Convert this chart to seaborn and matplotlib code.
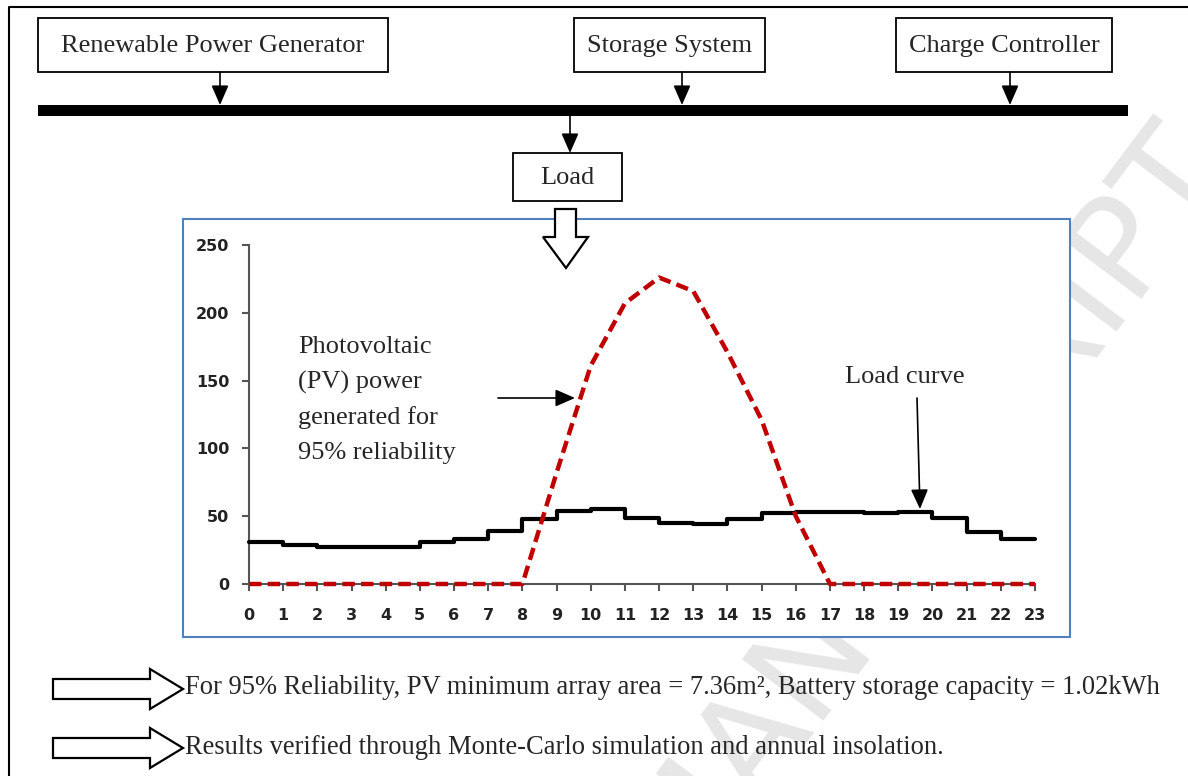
import matplotlib
matplotlib.use("Agg")
import pandas as pd
import seaborn as sns
import matplotlib.pyplot as plt
from matplotlib.patches import Rectangle, Polygon

# ------------------------------------------------
# data
# ------------------------------------------------
hours = list(range(24))
load_curve = [31, 29, 27, 27, 27, 31, 33, 39, 48, 54, 55, 49,
              45, 44, 48, 52, 53, 53, 52, 53, 49, 38, 33, 33]
pv_power = [0, 0, 0, 0, 0, 0, 0, 0, 0, 82, 161, 207,
            226, 216, 171, 121, 50, 0, 0, 0, 0, 0, 0, 0]
y_ticks = [0, 50, 100, 150, 200, 250]

block_labels = ["Renewable Power Generator", "Storage System", "Charge Controller"]
pv_note = ["Photovoltaic", "(PV) power", "generated for", "95% reliability"]
result_lines = [
    "For 95% Reliability, PV minimum array area = 7.36m\u00b2, Battery storage capacity = 1.02kWh",
    "Results verified through Monte-Carlo simulation and annual insolation.",
]

df = pd.DataFrame({"hour": hours, "load": load_curve, "pv": pv_power})

sns.set_style("ticks")
plt.rcParams["font.family"] = ["Liberation Serif", "DejaVu Serif"]

W, H = 1188, 776
fig = plt.figure(figsize=(W / 100, H / 100), dpi=100)

# background axes in pixel coordinates for the block diagram
bg = fig.add_axes([0, 0, 1, 1])
bg.set_xlim(0, W)
bg.set_ylim(H, 0)
bg.axis("off")

# watermark (mostly hidden behind the chart)
bg.text(1235, 175, "ACCEPTED MANUSCRIPT", rotation=53, rotation_mode="anchor",
        ha="right", va="baseline", fontsize=100, color="#e6e6e6",
        family="DejaVu Sans", zorder=0, clip_on=True)

# outer frame (left + top)
bg.plot([9, 9, W], [H, 7, 7], color="black", lw=1.5, zorder=3)

# blocks on the bus
boxes = [(38, 388), (574, 765), (896, 1112)]
arrow_x = [220, 682, 1010]
head = "-|>,head_length=0.8,head_width=0.35"
for (x0, x1), lab, xa in zip(boxes, block_labels, arrow_x):
    bg.add_patch(Rectangle((x0, 18), x1 - x0, 54, fc="white", ec="black", lw=1.3, zorder=3))
    bg.text((x0 + x1) / 2, 46, lab, ha="center", va="center", fontsize=19, zorder=4)
    bg.annotate("", xy=(xa, 105), xytext=(xa, 72),
                arrowprops=dict(arrowstyle=head, mutation_scale=15, color="black",
                                lw=1.2, shrinkA=0, shrinkB=0), zorder=4)

# bus bar
bg.add_patch(Rectangle((38, 105), 1128 - 38, 11, fc="black", ec="none", zorder=3))

# load block
bg.annotate("", xy=(570, 153), xytext=(570, 116),
            arrowprops=dict(arrowstyle=head, mutation_scale=15, color="black",
                            lw=1.2, shrinkA=0, shrinkB=0), zorder=4)
bg.add_patch(Rectangle((513, 153), 109, 48, fc="white", ec="black", lw=1.3, zorder=3))
bg.text(567, 178, "Load", ha="center", va="center", fontsize=19, zorder=4)

# chart frame
bg.add_patch(Rectangle((183, 219), 1070 - 183, 637 - 219, fc="white",
                       ec="#4f81bd", lw=1.5, zorder=2))

# hollow arrows
down_arrow = [(555, 209), (576, 209), (576, 237), (588, 237), (566, 268), (543, 237), (555, 237)]
bg.add_patch(Polygon(down_arrow, closed=True, fc="white", ec="black", lw=1.6, zorder=6))
for yc in [689, 748]:
    pts = [(53, yc - 10), (150, yc - 10), (150, yc - 20), (183, yc), (150, yc + 20),
           (150, yc + 10), (53, yc + 10)]
    bg.add_patch(Polygon(pts, closed=True, fc="white", ec="black", lw=1.6, zorder=4))
for yc, line in zip([687, 748], result_lines):
    bg.text(185, yc, line, ha="left", va="center", fontsize=19.1, zorder=4)

# ------------------------------------------------
# the load / PV chart
# ------------------------------------------------
ax = fig.add_axes([249 / W, 1 - 584 / H, (1035 - 249) / W, (584 - 245) / H])
ax.patch.set_alpha(0)
sns.lineplot(data=df, x="hour", y="load", ax=ax, color="black", lw=3,
             drawstyle="steps-post", clip_on=False, zorder=3)
sns.lineplot(data=df, x="hour", y="pv", ax=ax, color="#c00000", lw=3.2,
             linestyle=(0, (2.8, 1.4)), clip_on=False, zorder=4)

ax.set_xlim(0, 23)
ax.set_ylim(0, 250)
ax.set_xticks(hours)
ax.set_yticks(y_ticks)
ax.set_xlabel("")
ax.set_ylabel("")
for s in ["top", "right"]:
    ax.spines[s].set_visible(False)
for s in ["left", "bottom"]:
    ax.spines[s].set_color("#555555")
    ax.spines[s].set_linewidth(1.5)
ax.tick_params(axis="both", direction="out", length=5, width=1.5, color="#555555",
               labelsize=11.5, labelcolor="#222222")
ax.tick_params(axis="x", pad=12)
ax.tick_params(axis="y", pad=9)
for t in ax.get_xticklabels() + ax.get_yticklabels():
    t.set_family("DejaVu Sans")
    t.set_fontweight("bold")

# annotations inside the chart
for i, line in enumerate(pv_note):
    bg.text(298, 353 + i * 35.5, line, ha="left", va="baseline", fontsize=19, zorder=5)
bg.annotate("", xy=(575, 398), xytext=(498, 398),
            arrowprops=dict(arrowstyle=head, mutation_scale=15, color="black",
                            lw=1.2, shrinkA=0, shrinkB=0), zorder=5)
bg.text(905, 377, "Load curve", ha="center", va="center", fontsize=19, zorder=5)
bg.annotate("", xy=(920, 509), xytext=(917, 398),
            arrowprops=dict(arrowstyle=head, mutation_scale=15, color="black",
                            lw=1.2, shrinkA=0, shrinkB=0), zorder=5)

fig.savefig("out.png", dpi=100)
plt.close(fig)
